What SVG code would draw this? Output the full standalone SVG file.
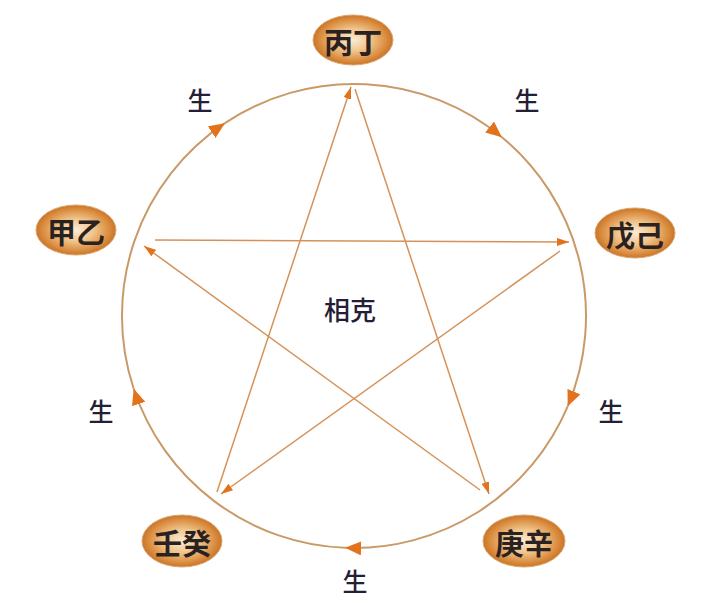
<svg xmlns="http://www.w3.org/2000/svg" width="724" height="614" viewBox="0 0 724 614">
<style>
.ring{fill:none;stroke:#c99a68;stroke-width:2}
.star{fill:none;stroke:#d4925a;stroke-width:1.5}
.node{stroke:#d9a870;stroke-width:1}
.nt{font-family:"Noto Sans CJK SC","Noto Sans",sans-serif;font-size:29px;font-weight:bold;fill:#2a2220;text-anchor:middle;dominant-baseline:central}
.lb{font-family:"Noto Sans CJK SC","Noto Sans",sans-serif;font-size:25px;font-weight:500;fill:#241e36;text-anchor:middle;dominant-baseline:central}
</style>
<defs>
<radialGradient id="g" cx="50%" cy="50%" r="50%">
<stop offset="0%" stop-color="#fcecd4"/>
<stop offset="45%" stop-color="#f0c48c"/>
<stop offset="85%" stop-color="#d98a3c"/>
<stop offset="100%" stop-color="#c9742a"/>
</radialGradient>
<marker id="ab" markerUnits="userSpaceOnUse" markerWidth="16" markerHeight="14" refX="16" refY="7" orient="auto">
<path d="M0,0 L16,7 L0,14 z" fill="#e2731c"/>
</marker>
<marker id="as" markerUnits="userSpaceOnUse" markerWidth="12" markerHeight="8" refX="12" refY="4" orient="auto">
<path d="M0,0 L12,4 L0,8 z" fill="#e2731c"/>
</marker>
</defs>
<rect width="724" height="614" fill="#ffffff"/>
<g id="connectors">
<path class="ring" d="M133.7,388.8 A232,232 0 0 1 224.9,123.2" marker-end="url(#ab)"/>
<path class="ring" d="M224.9,123.2 A232,232 0 0 1 501.9,137.2" marker-end="url(#ab)"/>
<path class="ring" d="M501.9,137.2 A232,232 0 0 1 567.7,406.3" marker-end="url(#ab)"/>
<path class="ring" d="M567.7,406.3 A232,232 0 0 1 345.1,547.8" marker-end="url(#ab)"/>
<path class="ring" d="M345.1,547.8 A232,232 0 0 1 133.7,388.8" marker-end="url(#ab)"/>
<line class="star" x1="155" y1="240" x2="569" y2="242" marker-end="url(#as)"/>
<line class="star" x1="560" y1="251" x2="221" y2="494" marker-end="url(#as)"/>
<line class="star" x1="217" y1="492" x2="351" y2="87" marker-end="url(#as)"/>
<line class="star" x1="355" y1="89" x2="489" y2="494" marker-end="url(#as)"/>
<line class="star" x1="480" y1="490" x2="144" y2="246" marker-end="url(#as)"/>
</g>
<g id="n-bingding"><ellipse class="node" cx="353" cy="40" rx="40" ry="25" fill="url(#g)"/><text class="nt" x="353" y="41">丙丁</text></g>
<g id="n-jiayi"><ellipse class="node" cx="76" cy="230" rx="40" ry="25" fill="url(#g)"/><text class="nt" x="76" y="231">甲乙</text></g>
<g id="n-wuji"><ellipse class="node" cx="635" cy="233" rx="40" ry="25" fill="url(#g)"/><text class="nt" x="635" y="234">戊己</text></g>
<g id="n-rengui"><ellipse class="node" cx="182" cy="541" rx="40" ry="26" fill="url(#g)"/><text class="nt" x="182" y="542">壬癸</text></g>
<g id="n-gengxin"><ellipse class="node" cx="524" cy="541" rx="41" ry="26" fill="url(#g)"/><text class="nt" x="524" y="542">庚辛</text></g>
<g id="labels">
<text class="lb" x="200" y="99">生</text>
<text class="lb" x="527" y="99">生</text>
<text class="lb" x="611" y="410">生</text>
<text class="lb" x="355" y="580">生</text>
<text class="lb" x="101" y="410">生</text>
<text class="lb" x="350" y="308" style="font-size:26px">相克</text>
</g>
</svg>
